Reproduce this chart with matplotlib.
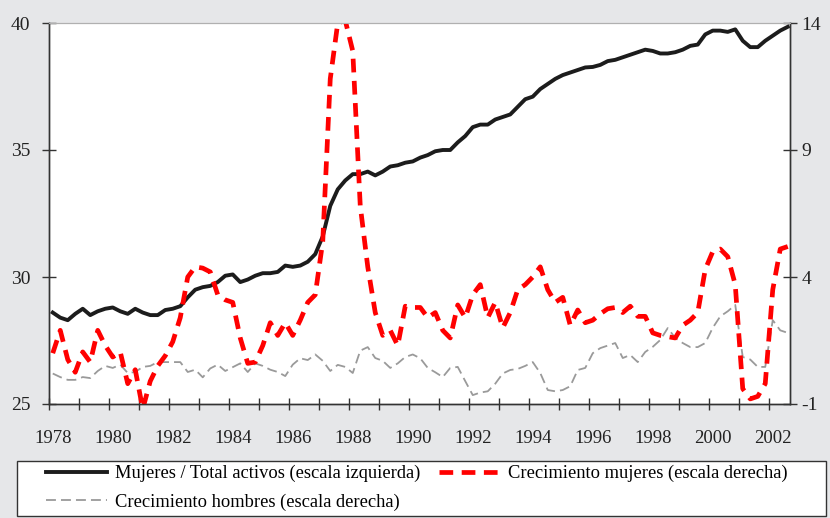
import numpy as np
import matplotlib
matplotlib.use("Agg")
import matplotlib.pyplot as plt
from matplotlib.patches import Rectangle
from matplotlib.transforms import ScaledTranslation

plt.rcParams['font.family'] = ['Liberation Serif', 'DejaVu Serif']

# quarterly data, 1978Q1 - 2002Q3
quarters = 1978.125 + 0.25 * np.arange(99)

# Mujeres / Total activos (%), left scale
share_women = [
    28.6, 28.4, 28.3, 28.55,
    28.75, 28.5, 28.65, 28.75,
    28.8, 28.65, 28.55, 28.75,
    28.6, 28.5, 28.5, 28.7,
    28.75, 28.85, 29.2, 29.5,
    29.6, 29.65, 29.8, 30.05,
    30.1, 29.8, 29.9, 30.05,
    30.15, 30.15, 30.2, 30.45,
    30.4, 30.45, 30.6, 30.9,
    31.6, 32.8, 33.45, 33.8,
    34.05, 34.05, 34.15, 34.0,
    34.15, 34.35, 34.4, 34.5,
    34.55, 34.7, 34.8, 34.95,
    35.0, 35.0, 35.3, 35.55,
    35.9, 36.0, 36.0, 36.2,
    36.3, 36.4, 36.7, 37.0,
    37.1, 37.4, 37.6, 37.8,
    37.95, 38.05, 38.15, 38.25,
    38.27, 38.35, 38.5, 38.55,
    38.65, 38.75, 38.85, 38.95,
    38.9, 38.8, 38.8, 38.85,
    38.95, 39.1, 39.15, 39.55,
    39.7, 39.7, 39.65, 39.75,
    39.3, 39.05, 39.05, 39.3,
    39.5, 39.7, 39.85,
]

# Crecimiento mujeres (%), right scale
growth_women = [
    1.0, 1.9, 0.75, 0.25,
    1.05, 0.65, 1.9, 1.3,
    0.85, 1.05, -0.2, 0.35,
    -1.2, -0.1, 0.5, 0.9,
    1.45, 2.4, 4.0, 4.4,
    4.35, 4.2, 3.3, 3.1,
    3.0, 1.6, 0.6, 0.65,
    1.3, 2.2, 1.7, 2.2,
    1.7, 2.3, 3.0, 3.3,
    5.4, 11.8, 14.0, 14.1,
    12.9, 6.8, 4.4, 2.6,
    1.7, 1.9, 1.3, 2.85,
    2.8, 2.8, 2.4, 2.6,
    1.9, 1.6, 2.9, 2.4,
    3.3, 3.7, 2.4, 3.0,
    2.0, 2.6, 3.5, 3.7,
    4.0, 4.4, 3.5, 3.0,
    3.2, 2.1, 2.7, 2.2,
    2.3, 2.55, 2.75, 2.8,
    2.6, 2.85, 2.45, 2.45,
    1.8, 1.7, 1.65, 1.6,
    2.1, 2.3, 2.6, 4.3,
    5.0, 5.1, 4.8, 3.7,
    -0.4, -0.8, -0.7, -0.2,
    3.5, 5.1, 5.2,
]

# Crecimiento hombres (%), right scale
growth_men = [
    0.2, 0.06, -0.05, -0.05,
    0.06, 0.02, 0.3, 0.5,
    0.42, 0.55, 0.22, 0.26,
    0.46, 0.5, 0.65, 0.65,
    0.65, 0.65, 0.26, 0.35,
    0.05, 0.4, 0.55, 0.3,
    0.45, 0.6, 0.26, 0.6,
    0.5, 0.35, 0.26, 0.1,
    0.55, 0.8, 0.73, 0.95,
    0.7, 0.3, 0.54, 0.46,
    0.22, 1.1, 1.24, 0.81,
    0.7, 0.42, 0.6, 0.85,
    0.95, 0.8, 0.42, 0.25,
    0.06, 0.42, 0.46, -0.1,
    -0.65, -0.55, -0.5, -0.2,
    0.2, 0.34, 0.38, 0.5,
    0.65, 0.22, -0.45, -0.5,
    -0.45, -0.3, 0.34, 0.42,
    1.0, 1.2, 1.3, 1.4,
    0.81, 0.93, 0.65, 1.05,
    1.25, 1.52, 1.99, 1.6,
    1.4, 1.24, 1.24, 1.4,
    2.0, 2.45, 2.65, 2.9,
    0.85, 0.75, 0.46, 0.46,
    2.3, 1.9, 1.8,
]

year_ticks = np.arange(1978, 2003)
left_ticks = [25, 30, 35, 40]
right_ticks = [-1, 4, 9, 14]

labels = ["Mujeres / Total activos (escala izquierda)",
          "Crecimiento hombres (escala derecha)",
          "Crecimiento mujeres (escala derecha)"]

fig = plt.figure(figsize=(8.3, 5.18), dpi=100, facecolor='#e6e7e9')
ax = fig.add_axes([49 / 830, 1 - 404 / 518, 741 / 830, 381 / 518])
ax.set_facecolor('white')
ax2 = ax.twinx()

l1, = ax.plot(quarters, share_women, color='#1c1c1c', lw=2.8, solid_joinstyle='round')
l2, = ax2.plot(quarters, growth_men, color='#9a9a9a', lw=1.3, linestyle=(0, (5.5, 2.8)))
l3, = ax2.plot(quarters, growth_women, color='#ff0000', lw=3.4, linestyle=(0, (2.9, 1.8)))

ax.set_xlim(1978, 2002.7)
ax.set_ylim(25, 40)
ax2.set_ylim(-1, 14)

ax.set_xticks(year_ticks)
ax.set_xticklabels([str(y) if y % 2 == 0 else '' for y in year_ticks])
ax.set_yticks(left_ticks)
ax2.set_yticks(right_ticks)
ax2.set_yticklabels([str(v) for v in right_ticks])

for a in (ax, ax2):
    for s in a.spines.values():
        s.set_color('#333333')
        s.set_linewidth(1.0)
    a.spines['top'].set_color('#b0b0b0')
    a.spines['top'].set_linewidth(0.8)

ax.tick_params(axis='x', direction='inout', length=9, width=1, color='#333333',
               labelsize=13.5, labelcolor='#222222', pad=14)
ax.tick_params(axis='y', direction='inout', length=10.5, width=1, color='#333333',
               labelsize=14, labelcolor='#222222', pad=8)
ax2.tick_params(axis='y', direction='inout', length=10.5, width=1, color='#333333',
                labelsize=14, labelcolor='#222222', pad=3)

offset = ScaledTranslation(4 / 100, 0, fig.dpi_scale_trans)
for lab in ax.get_xticklabels():
    lab.set_transform(lab.get_transform() + offset)

# legend frame
fig.add_artist(Rectangle((17 / 830, 2 / 518), 809 / 830, 55 / 518, transform=fig.transFigure,
                         facecolor='white', edgecolor='#333333', lw=1.0, zorder=1))
fig.legend([l1, l2, l3], labels, ncol=2, loc='upper left',
           bbox_to_anchor=(46 / 830, 1 - 465 / 518), frameon=False,
           fontsize=13.3, borderpad=0, borderaxespad=0, handlelength=3.3,
           handletextpad=0.42, columnspacing=1.05, labelspacing=0.6)

fig.savefig('out.png', dpi=100, facecolor=fig.get_facecolor())
